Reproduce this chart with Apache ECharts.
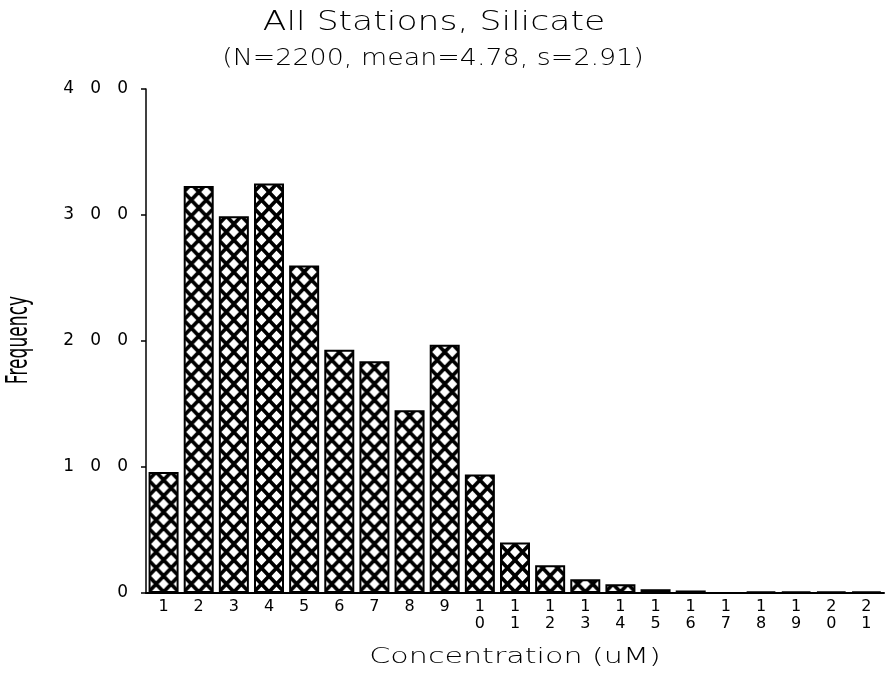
<!DOCTYPE html>
<html>
<head>
<meta charset="utf-8">
<script src="https://cdn.jsdelivr.net/npm/echarts@6/dist/echarts.min.js"></script>
<style>
  html, body { margin: 0; padding: 0; background: #fff; }
  #chart { width: 886px; height: 677px; }
</style>
</head>
<body>
<div id="chart"></div>
<script>
// Histogram of silicate concentration, all stations
const titleText = 'All Stations, Silicate';
const subtitleText = '(N=2200, mean=4.78, s=2.91)';
const xAxisTitle = 'Concentration (uM)';
const yAxisTitle = 'Frequency';
const categories = ['1','2','3','4','5','6','7','8','9','10','11','12','13','14','15','16','17','18','19','20','21'];
const frequencies = [96, 323, 299, 325, 260, 193, 184, 145, 197, 94, 40, 22, 11, 7, 3, 2, 0, 1, 1, 1, 1];
const yTicks = [0, 100, 200, 300, 400];

const BAR_W = 30;
const HATCH_W = BAR_W / 2, HATCH_H = 16;

// Cross-hatch fill: thick black diagonals leaving white diamonds
function makeHatch() {
  const w = HATCH_W, h = HATCH_H;
  const c = document.createElement('canvas');
  c.width = w; c.height = h;
  const g = c.getContext('2d');
  g.fillStyle = '#fff';
  g.fillRect(0, 0, w, h);
  g.strokeStyle = '#000';
  g.lineWidth = 3.6;
  for (let dx = -w; dx <= w; dx += w) {
    for (let dy = -h; dy <= h; dy += h) {
      g.beginPath();
      g.moveTo(dx, dy); g.lineTo(dx + w, dy + h);
      g.moveTo(dx + w, dy); g.lineTo(dx, dy + h);
      g.stroke();
    }
  }
  return c;
}
const hatch = makeHatch();

// Digits spread wide apart like the plotter lettering
const spaced = s => String(s).split('').join('   ');
const stacked = s => String(s).split('').join('\n');

const font = 'DejaVu Sans, sans-serif';
const lightFont = 'DejaVu Sans ExtraLight, DejaVu Sans, sans-serif';
const chart = echarts.init(document.getElementById('chart'), null, { renderer: 'canvas' });

function barData(offsets) {
  return frequencies.map((v, i) => ({
    value: v,
    itemStyle: {
      color: { image: hatch, repeat: 'repeat', x: offsets ? offsets[i] : 0, y: 0 }
    }
  }));
}

chart.setOption({
  animation: false,
  backgroundColor: '#fff',
  graphic: [
    { type: 'text', x: 434, y: 23, scaleX: 1.28,
      style: { text: titleText, fontFamily: lightFont, fontWeight: 200, fontSize: 27, fill: '#000', align: 'center', verticalAlign: 'middle' } },
    { type: 'text', x: 433, y: 59, scaleX: 1.17,
      style: { text: subtitleText, fontFamily: lightFont, fontWeight: 200, fontSize: 23, fill: '#000', align: 'center', verticalAlign: 'middle' } },
    { type: 'text', x: 515, y: 657, scaleX: 1.37,
      style: { text: xAxisTitle, fontFamily: lightFont, fontWeight: 200, fontSize: 22, fill: '#000', align: 'center', verticalAlign: 'middle' } },
    { type: 'text', x: 19, y: 340, rotation: Math.PI / 2, scaleX: 0.57,
      style: { text: yAxisTitle, fontFamily: font, fontSize: 30, fill: '#000', align: 'center', verticalAlign: 'middle' } }
  ],
  grid: { left: 146, right: 2, top: 89, bottom: 84, containLabel: false },
  xAxis: {
    type: 'category',
    data: categories,
    axisLine: { lineStyle: { color: '#000', width: 2 } },
    axisTick: { show: false },
    axisLabel: {
      interval: 0, margin: 5, color: '#000', fontFamily: font, fontSize: 16, lineHeight: 17,
      formatter: v => stacked(v)
    }
  },
  yAxis: {
    type: 'value',
    min: yTicks[0],
    max: yTicks[yTicks.length - 1],
    interval: 100,
    splitLine: { show: false },
    axisLine: { show: true, lineStyle: { color: '#000', width: 1.5 } },
    axisTick: { show: true, length: 5, lineStyle: { color: '#000', width: 1.5 } },
    axisLabel: { margin: 18, color: '#000', fontFamily: font, fontSize: 17, formatter: v => spaced(v) }
  },
  series: [{
    type: 'bar',
    data: barData(null),
    barWidth: BAR_W,
    itemStyle: { borderColor: '#000', borderWidth: 2 }
  }]
});

// Align the hatch phase with each bar's left edge
const offsets = categories.map((c, i) => chart.convertToPixel({ xAxisIndex: 0 }, i) - BAR_W / 2);
chart.setOption({ series: [{ data: barData(offsets) }] });
</script>
</body>
</html>
